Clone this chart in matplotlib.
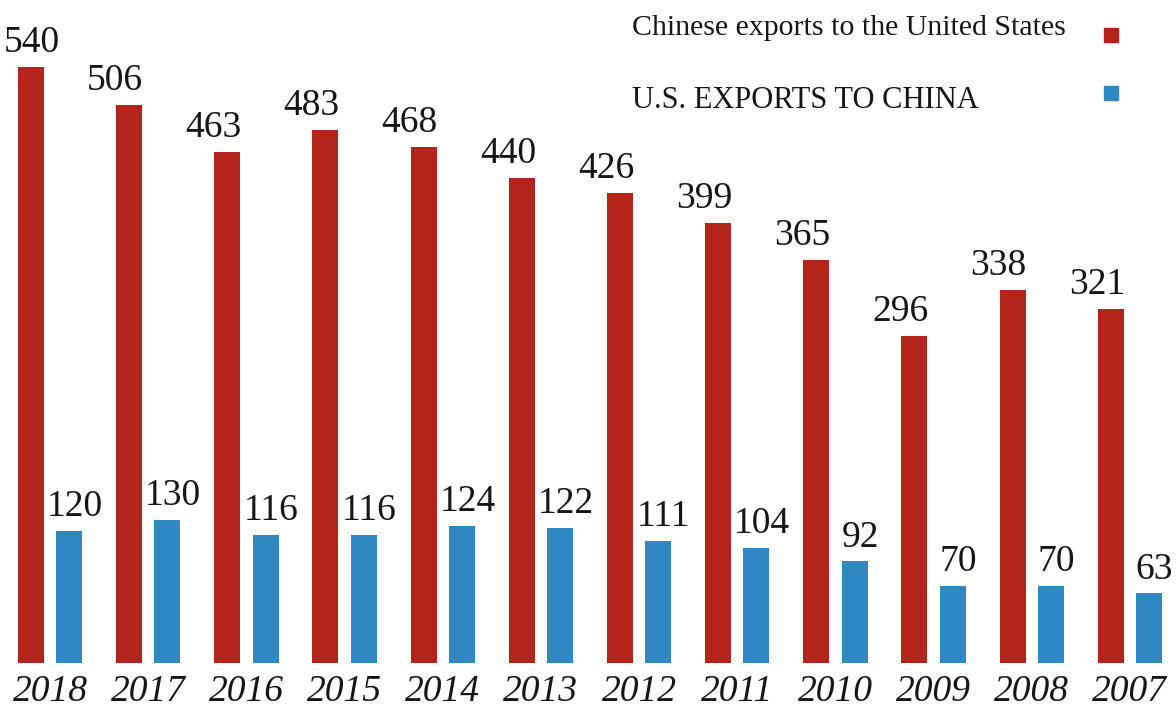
import matplotlib
matplotlib.use("Agg")
import matplotlib.pyplot as plt
import numpy as np

years = ["2018", "2017", "2016", "2015", "2014", "2013",
         "2012", "2011", "2010", "2009", "2008", "2007"]
china_to_us = [540, 506, 463, 483, 468, 440, 426, 399, 365, 296, 338, 321]
us_to_china = [120, 130, 116, 116, 124, 122, 111, 104, 92, 70, 70, 63]
labels = ["Chinese exports to the United States", "U.S. EXPORTS TO CHINA"]

red = "#B4241B"
blue = "#2E88C2"
txt = "#161616"

plt.rcParams["font.family"] = ["Liberation Serif", "DejaVu Serif"]

fig = plt.figure(figsize=(11.76, 7.13), dpi=100)
ax = fig.add_axes([0, 50 / 713, 1, 662 / 713])

x = np.arange(len(years))
w = 0.265
off = 0.195
ax.bar(x - off, china_to_us, width=w, color=red)
ax.bar(x + off, us_to_china, width=w, color=blue)

# value labels (red ones sit a little left of their bar, blue a little right)
for i, (xi, v) in enumerate(zip(x, china_to_us)):
    dx = 1 if i == 0 else -10
    ax.annotate(str(v), (xi - off, v), xytext=(dx, 5), textcoords="offset points",
                ha="center", va="bottom", fontsize=27, color=txt)
for xi, v in zip(x, us_to_china):
    ax.annotate(str(v), (xi + off, v), xytext=(4, 5), textcoords="offset points",
                ha="center", va="bottom", fontsize=27, color=txt)

ax.set_xlim(-0.51, 11.47)
ax.set_ylim(0, 600)
ax.set_xticks(x)
ax.set_xticklabels(years, fontsize=27, style="italic", color=txt)
ax.tick_params(axis="x", length=0, pad=8)
ax.set_yticks([])
for s in ax.spines.values():
    s.set_visible(False)

# legend: text on the left, colour square on the right
fig.text(632 / 1176, 1 - 28 / 713, labels[0], fontsize=21.5, va="center", ha="left", color=txt)
fig.text(632 / 1176, 1 - 101 / 713, labels[1], fontsize=22, va="center", ha="left", color=txt)
ax.plot([1111 / 1176], [1 - 34 / 662], marker="s", markersize=9.5, color=red,
        transform=ax.transAxes, clip_on=False)
ax.plot([1111 / 1176], [1 - 92 / 662], marker="s", markersize=9.5, color=blue,
        transform=ax.transAxes, clip_on=False)

fig.savefig("out.png", dpi=100)
